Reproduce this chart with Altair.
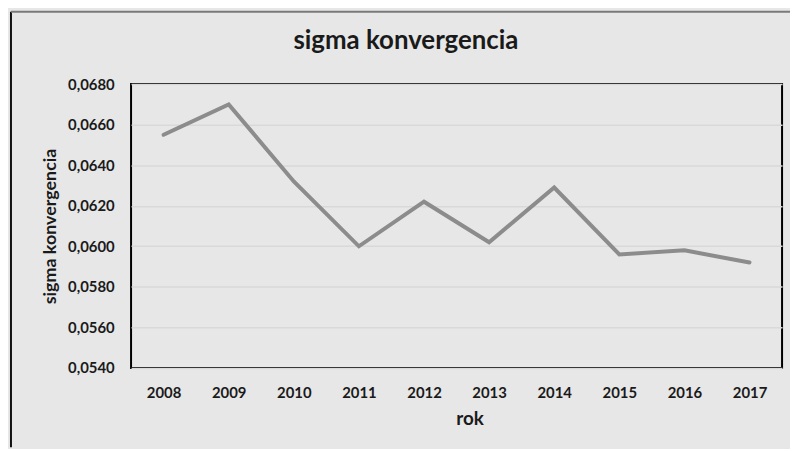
import altair as alt
import pandas as pd

years = ["2008", "2009", "2010", "2011", "2012", "2013", "2014", "2015", "2016", "2017"]
sigma = [0.0655, 0.0670, 0.0632, 0.0600, 0.0622, 0.0602, 0.0629, 0.0596, 0.0598, 0.0592]
y_ticks = [0.054, 0.056, 0.058, 0.060, 0.062, 0.064, 0.066, 0.068]

df = pd.DataFrame({"rok": years, "sigma": sigma})

FONT = "Lato"
TXT = "#1a1a1a"

line = alt.Chart(df).mark_line(color="#8c8c8c", strokeWidth=4, strokeCap="round").encode(
    x=alt.X("rok:O", sort=years,
            axis=alt.Axis(title="rok", labelAngle=0, ticks=False, tickSize=0, domain=False,
                          labelFont=FONT, labelFontSize=15, labelFontWeight="bold", labelColor=TXT,
                          labelPadding=18, titleFont=FONT, titleFontSize=19, titleFontWeight="bold",
                          titleColor=TXT, titlePadding=9, titleX=341, grid=False)),
    y=alt.Y("sigma:Q", scale=alt.Scale(domain=[0.054, 0.068], nice=False, zero=False),
            axis=alt.Axis(title="sigma konvergencia", values=y_ticks,
                          labelExpr="replace(format(datum.value, '.4f'), '.', ',')",
                          ticks=False, tickSize=0, domain=False,
                          labelFont=FONT, labelFontSize=15, labelFontWeight="bold", labelColor=TXT,
                          labelPadding=17, titleFont=FONT, titleFontSize=18, titleFontWeight="bold",
                          titleColor=TXT, titlePadding=8, grid=True, gridColor="#d9d9d9",
                          gridWidth=1.5)),
)

frame_data = alt.Data(values=[{"k": 0}])
left_border = alt.Chart(frame_data).mark_rule(color="#111111", strokeWidth=2).encode(
    x=alt.value(-121), y=alt.value(-73), y2=alt.value(366))
top_border = alt.Chart(frame_data).mark_rule(color="#7a7a7a", strokeWidth=2).encode(
    x=alt.value(-121), x2=alt.value(664), y=alt.value(-73))

chart = alt.layer(left_border, top_border, line).properties(
    width=656, height=286,
    title=alt.TitleParams("sigma konvergencia", font=FONT, fontSize=26, fontWeight="bold",
                          color=TXT, anchor="middle", dx=-51, offset=-44),
    background="#e7e7e7",
    padding={"left": 124, "top": 75, "right": 8, "bottom": 80},
    autosize=alt.AutoSizeParams(type="none"),
).configure_view(stroke="#000000", strokeWidth=2)

chart.save("out.html", embed_options={"renderer": "svg", "actions": False})
